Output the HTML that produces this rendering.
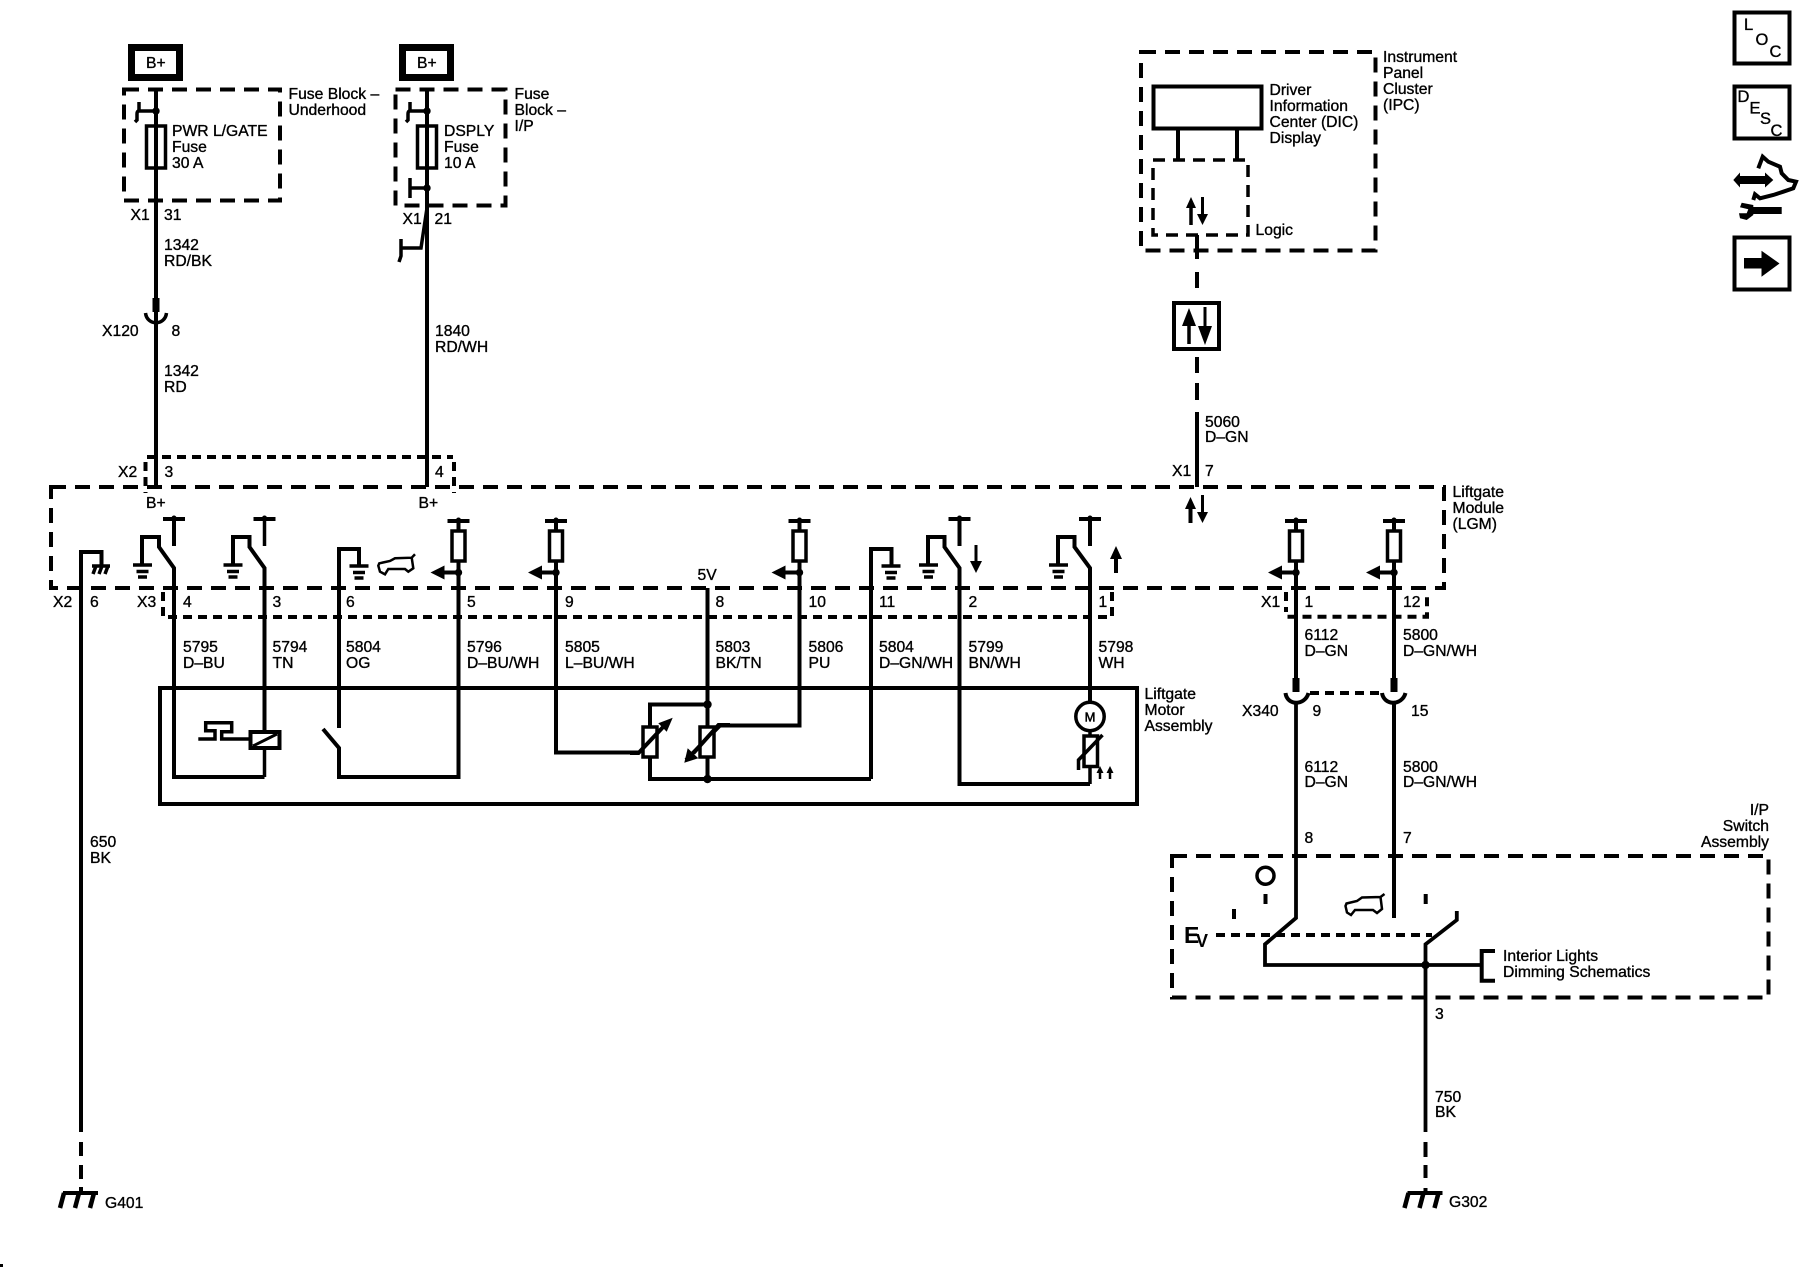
<!DOCTYPE html>
<html lang="en">
<head>
<meta charset="utf-8">
<title>Liftgate Module Wiring Schematic</title>
<style>
html,body{margin:0;padding:0;background:#fff;width:1800px;height:1280px;overflow:hidden}
svg{display:block}
text{font-family:"Liberation Sans",sans-serif;font-size:15.7px;fill:#000;stroke:#000;stroke-width:.35}
.w{fill:none;stroke:#000;stroke-width:4;stroke-linejoin:miter}
.t{fill:none;stroke:#000;stroke-width:3.5}
.d{fill:none;stroke:#000;stroke-width:4;stroke-dasharray:15 9}
.s{fill:none;stroke:#000;stroke-width:4;stroke-dasharray:9 6}
.f{fill:#000;stroke:none}
.e{text-anchor:end}
</style>
</head>
<body>
<svg width="1800" height="1280" viewBox="0 0 1800 1280" xmlns="http://www.w3.org/2000/svg">
<defs>
  <g id="gnd"><path d="M-9.500 0H9.500" fill="none" stroke="#000" stroke-width="3.500"/><path d="M-6 6.500H6" fill="none" stroke="#000" stroke-width="3.500"/><path d="M-4.500 12H4.500" fill="none" stroke="#000" stroke-width="3.500"/></g>
  <g id="tee"><path d="M-11 0H11" fill="none" stroke="#000" stroke-width="4"/><circle cx="0" cy="-1" r="2.500" fill="#000"/></g>
  <g id="res"><path d="M0 0V72" fill="none" stroke="#000" stroke-width="4"/><rect x="-6.500" y="10" width="13" height="30" fill="#fff" stroke="#000" stroke-width="3.500"/><circle cx="0" cy="51.500" r="3.700" fill="#000"/><path d="M0 51.500H-14" fill="none" stroke="#000" stroke-width="4"/><path d="M-14 44.500V58.500L-28 51.500Z" fill="#000"/></g>
  <g id="gndbig"><path d="M-18 0H17" fill="none" stroke="#000" stroke-width="4"/><path d="M-17 0L-21 15M-2 0L-6 15M13 0L9 15" fill="none" stroke="#000" stroke-width="4.500"/></g>
</defs>

<!-- B+ boxes -->
<rect x="131.500" y="47.500" width="48" height="30" fill="none" stroke="#000" stroke-width="7"/>
<rect x="402.500" y="47.500" width="48" height="30" fill="none" stroke="#000" stroke-width="7"/>
<text x="146" y="68">B+</text><text x="417" y="68">B+</text>

<!-- Fuse blocks -->
<rect x="124" y="89.500" width="156" height="111" class="d"/>
<rect x="395.500" y="89.500" width="110" height="116" class="d"/>
<path d="M156 89V487" class="w"/>
<path d="M427 89V487" class="w"/>
<rect x="146.500" y="126" width="19" height="42" fill="none" stroke="#000" stroke-width="3.500"/>
<rect x="417.500" y="126" width="19" height="42" fill="none" stroke="#000" stroke-width="3.500"/>
<circle cx="156" cy="111" r="3.700" class="f"/><circle cx="427" cy="111" r="3.700" class="f"/><circle cx="427" cy="188" r="3.700" class="f"/>
<path d="M156 111H139Q137 111 137 114V120L135 122" class="t"/><path d="M139 111V102" class="t"/>
<path d="M427 111H410Q408 111 408 114V120L406 122" class="t"/><path d="M410 111V102" class="t"/>
<path d="M427 188H410V198M410 188V178" class="t"/>
<path d="M427 208L421 248H401V256L399 262M401 248V239" class="t"/>
<text x="172" y="136">PWR L/GATE</text><text x="172" y="152">Fuse</text><text x="172" y="168">30 A</text>
<text x="444" y="136">DSPLY</text><text x="444" y="152">Fuse</text><text x="444" y="168">10 A</text>
<text x="288.500" y="99">Fuse Block –</text><text x="288.500" y="115">Underhood</text>
<text x="514.500" y="99">Fuse</text><text x="514.500" y="115">Block –</text><text x="514.500" y="131">I/P</text>
<text x="130.500" y="220">X1</text><text x="164" y="220">31</text>
<text x="402.500" y="224">X1</text><text x="434.500" y="224">21</text>
<text x="164" y="250">1342</text><text x="164" y="266">RD/BK</text>
<text x="435" y="336">1840</text><text x="435" y="352">RD/WH</text>
<text x="164" y="376">1342</text><text x="164" y="392">RD</text>
<text x="102" y="336">X120</text><text x="171.500" y="336">8</text>

<!-- X120 connector -->
<rect x="152.500" y="298" width="7" height="14" class="f"/>
<path d="M145.500 313C147 326 165 326 166.500 313" class="t" stroke-width="4"/>

<!-- X2 connector -->
<path d="M147 457H453" class="s"/>
<path d="M145.500 462V493" class="s"/><path d="M454 462V493" class="s"/>
<text x="118" y="477">X2</text><text x="164.500" y="477">3</text><text x="435" y="477">4</text>

<!-- Liftgate module -->
<rect x="51" y="487" width="1393" height="101" class="d"/>
<text x="146" y="508">B+</text><text x="418.500" y="508">B+</text>
<text x="1452.500" y="497">Liftgate</text><text x="1452.500" y="513">Module</text><text x="1452.500" y="529">(LGM)</text>

<!-- X2 6 chassis ground -->
<path d="M81 1132V552H101.500V566" class="w"/>
<path d="M92 566H110" class="t"/>
<path d="M96 566L93 574M102 566L99 574M108 566L105 574" class="t"/>
<path d="M81 1142V1156M81 1165V1179M81 1187V1193" class="w"/>
<use href="#gndbig" x="81" y="1193"/>
<text x="105" y="1208">G401</text>
<rect x="0" y="1264" width="3" height="3" class="f"/>

<!-- X3 connector -->
<path d="M163 592V617H1112V592" class="s"/>
<text x="53" y="607">X2</text><text x="90" y="607">6</text><text x="137" y="607">X3</text>
<text x="183" y="607">4</text><text x="272.500" y="607">3</text><text x="346" y="607">6</text><text x="467" y="607">5</text><text x="565" y="607">9</text>
<text x="715.500" y="607">8</text><text x="808.500" y="607">10</text><text x="879" y="607">11</text><text x="968.500" y="607">2</text><text x="1098.500" y="607">1</text>

<!-- Relay switch 5795 -->
<use href="#tee" x="174" y="519"/><path d="M174 519V546" class="w"/>
<path d="M142 565V537H159V547L174 568V777H264.500" class="w"/>
<use href="#gnd" x="142.500" y="565"/>
<!-- Relay switch 5794 -->
<use href="#tee" x="264.500" y="519"/><path d="M264.500 519V546" class="t"/>
<path d="M233 565V537H249.500V547L264.500 568V731" class="w" style="stroke-width:4"/>
<path d="M264.500 748V777" class="t"/>
<use href="#gnd" x="233" y="565"/>

<!-- OG switch -->
<path d="M339 728V549H359V566" class="w"/>
<use href="#gnd" x="359" y="566"/>
<path d="M323 729L339 748V777H458.500V572" class="w"/>
<path d="M415 554.300L411.700 557.700L395 558.300L390 561L379.300 563.300L378.300 565.700L380 571.700L385 574.300L388.300 569H405L408.300 571.700L413.300 568.300L411.700 557.700" fill="none" stroke="#000" stroke-width="2.500"/>

<!-- Inputs with pull-up resistors -->
<use href="#tee" x="458.500" y="521"/><use href="#res" x="458.500" y="521"/>
<use href="#tee" x="556" y="521"/><use href="#res" x="556" y="521"/>
<use href="#tee" x="799.500" y="521"/><use href="#res" x="799.500" y="521"/>
<use href="#tee" x="1296" y="521"/><use href="#res" x="1296" y="521"/>
<use href="#tee" x="1394" y="521"/><use href="#res" x="1394" y="521"/>

<path d="M556 590V752.500H638" class="w"/>
<path d="M799.500 590V725.500H720L686 760" class="w"/>
<path d="M458.500 590V775" class="w"/>
<path d="M707.500 588V779" class="w"/>
<text x="697.500" y="580">5V</text>

<!-- D-GN/WH ground wire -->
<path d="M871 779V549H891.500V566" class="w"/>
<use href="#gnd" x="891" y="566"/>
<!-- Switch 5799 -->
<use href="#tee" x="959.500" y="519"/><path d="M959.500 519V546" class="w"/>
<path d="M928 565V537H944.500V547L959.500 568V784H1090" class="w"/>
<use href="#gnd" x="928.500" y="565"/>
<path d="M976 545V564" stroke="#000" stroke-width="3"/><path d="M970 561H982L976 573Z" class="f"/>
<!-- Switch 5798 -->
<use href="#tee" x="1090" y="519"/><path d="M1090 519V546" class="w"/>
<path d="M1058 565V537H1074.500V547L1090 568V701" class="w"/>
<use href="#gnd" x="1058.500" y="565"/>
<path d="M1116 573V555" stroke="#000" stroke-width="4"/><path d="M1110 559H1122L1116 546Z" class="f"/>

<!-- Wire labels -->
<text x="183" y="652">5795</text><text x="183" y="668">D–BU</text>
<text x="272.500" y="652">5794</text><text x="272.500" y="668">TN</text>
<text x="346" y="652">5804</text><text x="346" y="668">OG</text>
<text x="467" y="652">5796</text><text x="467" y="668">D–BU/WH</text>
<text x="565" y="652">5805</text><text x="565" y="668">L–BU/WH</text>
<text x="715.500" y="652">5803</text><text x="715.500" y="668">BK/TN</text>
<text x="808.500" y="652">5806</text><text x="808.500" y="668">PU</text>
<text x="879" y="652">5804</text><text x="879" y="668">D–GN/WH</text>
<text x="968.500" y="652">5799</text><text x="968.500" y="668">BN/WH</text>
<text x="1098.500" y="652">5798</text><text x="1098.500" y="668">WH</text>

<!-- Motor assembly -->
<rect x="160" y="688" width="977" height="116" fill="none" stroke="#000" stroke-width="4"/>
<text x="1144.500" y="699">Liftgate</text><text x="1144.500" y="715">Motor</text><text x="1144.500" y="731">Assembly</text>

<!-- Relay coil and pulse -->
<rect x="250.500" y="732" width="29" height="16" fill="#fff" stroke="#000" stroke-width="4"/>
<path d="M253 746L277 734" stroke="#000" stroke-width="3"/>
<path d="M198.300 739H215V730.700H205.700V722.700H231.700V731.700H221.700V739H250" class="t"/>

<!-- Position sensors -->
<path d="M707.500 704.500H650V727M650 757V779H871" class="w"/>
<rect x="643" y="727" width="14" height="30" fill="#fff" stroke="#000" stroke-width="3.500"/>
<rect x="700" y="727" width="14" height="30" fill="#fff" stroke="#000" stroke-width="3.500"/>
<path d="M630 753H638.500L665 725" class="w"/>
<path d="M672.700 717.700L658.300 723.300L666.700 731.700Z" class="f"/>
<path d="M730 725H718.500L693.500 753" class="w"/>
<path d="M684.300 762.700L687.700 748.300L698.300 758.300Z" class="f"/>
<circle cx="707.500" cy="704.500" r="4.200" class="f"/><circle cx="707.500" cy="779" r="4.200" class="f"/>
<path d="M799.500 725.500H720" class="w"/>

<!-- Motor -->
<circle cx="1090" cy="716.500" r="14.200" fill="#fff" stroke="#000" stroke-width="3.500"/>
<text x="1090" y="721.500" text-anchor="middle" style="font-size:13px;stroke-width:.5">M</text>
<path d="M1090 731V736M1090 767V784" class="t"/>
<rect x="1084" y="736" width="13.500" height="30.500" fill="#fff" stroke="#000" stroke-width="3.500"/>
<path d="M1102.500 735L1078.500 760V770" class="t"/>
<path d="M1100 779V771M1110 779V771" stroke="#000" stroke-width="2.500"/>
<path d="M1096.500 773H1103.500L1100 766ZM1106.500 773H1113.500L1110 766Z" class="f"/>

<!-- IPC -->
<rect x="1141" y="52" width="234.500" height="198.500" class="d"/>
<rect x="1153.500" y="86.500" width="108" height="42" fill="none" stroke="#000" stroke-width="4"/>
<path d="M1178 129V160M1237 129V160" class="t" style="stroke-width:4"/>
<rect x="1153" y="160" width="95" height="75" fill="none" stroke="#000" stroke-width="3.500" stroke-dasharray="12 8"/>
<path d="M1191 225V205" stroke="#000" stroke-width="3.500"/><path d="M1186 208H1196L1191 197Z" class="f"/>
<path d="M1202.500 197V216" stroke="#000" stroke-width="3"/><path d="M1197 214H1208L1202.500 225Z" class="f"/>
<text x="1269.500" y="95">Driver</text><text x="1269.500" y="111">Information</text><text x="1269.500" y="127">Center (DIC)</text><text x="1269.500" y="143">Display</text>
<text x="1383" y="62">Instrument</text><text x="1383" y="78">Panel</text><text x="1383" y="94">Cluster</text><text x="1383" y="110">(IPC)</text>
<text x="1255.500" y="235">Logic</text>

<!-- Serial data line -->
<path d="M1197 235V259M1197 272V288M1197 357V373M1197 383V400M1197 412V487" class="w"/>
<rect x="1174" y="303" width="45" height="46" fill="none" stroke="#000" stroke-width="4"/>
<path d="M1189 344V322" stroke="#000" stroke-width="3.500"/><path d="M1182 326H1196L1189 308Z" class="f"/>
<path d="M1205 307V330" stroke="#000" stroke-width="3"/><path d="M1198 326H1212L1205 345Z" class="f"/>
<text x="1205" y="427">5060</text><text x="1205" y="442">D–GN</text>
<text x="1172" y="476">X1</text><text x="1205" y="476">7</text>
<path d="M1190.500 523V505" stroke="#000" stroke-width="4"/><path d="M1185 509H1196L1190.500 497Z" class="f"/>
<path d="M1202.500 495V514" stroke="#000" stroke-width="3"/><path d="M1197 512H1208L1202.500 523Z" class="f"/>

<!-- Side icons -->
<rect x="1734.500" y="12.500" width="55" height="51" fill="none" stroke="#000" stroke-width="4"/>
<text x="1744" y="30" style="font-size:16.500px">L</text><text x="1755.500" y="45" style="font-size:16.500px">O</text><text x="1769.500" y="57" style="font-size:16.500px">C</text>
<rect x="1734.500" y="86.500" width="55" height="52" fill="none" stroke="#000" stroke-width="4"/>
<text x="1737.500" y="102" style="font-size:16.500px">D</text><text x="1749.500" y="113.500" style="font-size:16.500px">E</text><text x="1760" y="124" style="font-size:16.500px">S</text><text x="1770.500" y="136" style="font-size:16.500px">C</text>
<path d="M1753.300 200L1755 194.300L1760 198.300L1773.300 195L1783.300 191.700L1793.300 188.300L1796 181.700L1788.300 180L1781.700 173.300L1780 166.700L1768.300 161.700L1762.700 156.700L1758.300 168.300" fill="none" stroke="#000" stroke-width="4"/>
<path d="M1733.300 180L1740 172.500V176H1765V172.500L1773.300 180L1765 187.500V184H1740V187.500Z" class="f"/>
<path d="M1753 207H1781.700V214H1753Z" class="f"/>
<path d="M1741.700 202.700L1753.300 205V215L1746.700 220L1740 218.300L1739 213.300L1746.700 213.300L1748.300 209.300L1740 207.300Z" class="f"/>
<rect x="1734.500" y="237.500" width="55" height="52" fill="none" stroke="#000" stroke-width="4"/>
<path d="M1744 258H1761.500V250.700L1779.500 263.500L1761.500 276.700V268.500H1744Z" class="f"/>

<!-- Right side wires -->
<path d="M1296 590V678M1394 590V678" class="w"/>
<path d="M1287.500 616.700H1427V592" class="s"/>
<path d="M1286 592V612" class="s"/>
<text x="1261" y="607">X1</text><text x="1304.500" y="607">1</text><text x="1403" y="607">12</text>
<text x="1304.500" y="640">6112</text><text x="1304.500" y="656">D–GN</text>
<text x="1403" y="640">5800</text><text x="1403" y="656">D–GN/WH</text>
<rect x="1292.500" y="678" width="7" height="14" class="f"/><rect x="1390.500" y="678" width="7" height="14" class="f"/>
<path d="M1285.500 693C1287 706 1305 706 1308.500 693" class="t" style="stroke-width:4"/>
<path d="M1382 693C1384 706 1402 706 1405.500 693" class="t" style="stroke-width:4"/>
<path d="M1310 693H1381" class="s"/>
<path d="M1296 702V918L1265 944.300V965H1481.700" class="w" style="stroke-width:3.800"/>
<path d="M1394 702V918" class="w"/>
<text x="1242" y="716">X340</text><text x="1312.500" y="716">9</text><text x="1411" y="716">15</text>
<text x="1304.500" y="772">6112</text><text x="1304.500" y="787">D–GN</text>
<text x="1403" y="772">5800</text><text x="1403" y="787">D–GN/WH</text>
<text x="1304.500" y="843">8</text><text x="1403" y="843">7</text>
<text x="1769" y="815" class="e">I/P</text><text x="1769" y="831" class="e">Switch</text><text x="1769" y="847" class="e">Assembly</text>

<!-- I/P Switch -->
<rect x="1172" y="856" width="596.500" height="141.500" class="d"/>
<circle cx="1265.500" cy="875.700" r="8.500" fill="none" stroke="#000" stroke-width="3.500"/>
<path d="M1265.500 894V904M1234 909V919M1425.700 894V904" class="w"/>
<path d="M1216 935H1432" class="s"/>
<text x="1184" y="943" style="font-size:23px;font-weight:bold;stroke-width:0">E</text>
<text x="1196" y="947" style="font-size:18px;font-weight:bold;stroke-width:0">V</text>
<path d="M1384.500 894L1380.500 897L1362 897.500L1357 901L1346.500 903.500L1345.500 906L1347 912.500L1351 915L1355 910H1373L1377 913L1382 909L1380.500 897" fill="none" stroke="#000" stroke-width="2.500"/>
<path d="M1456.800 911V920L1425.500 944.300V1132" class="w" style="stroke-width:3.800"/>
<circle cx="1425.500" cy="965" r="4.200" class="f"/>
<path d="M1495 951H1481.700V980.700H1495" class="w"/>
<text x="1503" y="961">Interior Lights</text><text x="1503" y="977">Dimming Schematics</text>
<text x="1435" y="1019">3</text>
<text x="1435" y="1102">750</text><text x="1435" y="1117">BK</text>
<path d="M1425.500 1142V1157M1425.500 1165V1178M1425.500 1188V1193" class="w"/>
<use href="#gndbig" x="1425.500" y="1193"/>
<text x="1449" y="1207">G302</text>

<text x="90" y="847">650</text><text x="90" y="863">BK</text>
</svg>
</body>
</html>
